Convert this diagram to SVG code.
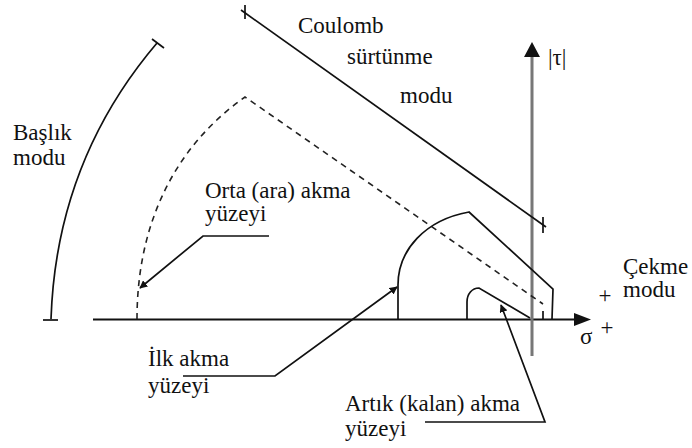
<svg xmlns="http://www.w3.org/2000/svg" width="692" height="448" viewBox="0 0 692 448">
<style>
.ln{fill:none;stroke:#111;stroke-width:1.7}
.ds{fill:none;stroke:#222;stroke-width:1.6;stroke-dasharray:6,5}
.ld{fill:none;stroke:#111;stroke-width:1.7}
.t{font-family:"Liberation Serif","Times New Roman","DejaVu Serif",serif;font-size:23px;fill:#111}
</style>
<defs>
<marker id="ah" viewBox="0 0 10 10" refX="9" refY="5" markerWidth="8" markerHeight="8" markerUnits="userSpaceOnUse" orient="auto">
<path d="M0,0 L10,5 L0,10 z" fill="#111"/>
</marker>
</defs>
<rect width="692" height="448" fill="#fff"/>
<g id="axes">
<line x1="93" y1="319.5" x2="575" y2="319.5" stroke="#111" stroke-width="2"/>
<path d="M574,313 L591,319.5 L574,326 z" fill="#111"/>
<line x1="532" y1="356" x2="532" y2="56" stroke="#777" stroke-width="3"/>
<path d="M524,57 L532,42 L540,57 z" fill="#111"/>
</g>
<g id="baslik-modu">
<path class="ln" d="M157,43 C100,110 55,200 51,319"/>
<line class="ln" x1="152" y1="39" x2="164" y2="48"/>
<line class="ln" x1="43" y1="320" x2="58" y2="320"/>
</g>
<g id="coulomb-modu">
<line class="ln" x1="241" y1="10" x2="546" y2="227"/>
<line class="ln" x1="245" y1="5" x2="245" y2="19"/>
<line class="ln" x1="543" y1="217" x2="543" y2="233"/>
</g>
<g id="orta-akma">
<path class="ds" d="M137,319 C137,230 170,150 245,97 L543,304"/>
<line class="ln" x1="543" y1="311" x2="543" y2="319"/>
</g>
<g id="ilk-akma">
<path class="ln" d="M398,319 L398,285 C398,250 425,220 469,212 L553,289 L552,319"/>
</g>
<g id="artik-akma">
<path class="ln" d="M467,319 L467,302 C467,294 472,288 479,288 L530,318"/>
</g>
<g id="connectors">
<polyline class="ld" points="269,236 203,236 140,288" marker-end="url(#ah)"/>
<polyline class="ld" points="183,376 275,376 397,287" marker-end="url(#ah)"/>
<polyline class="ld" points="425,422 545,422 501,305" marker-end="url(#ah)"/>
</g>
<g id="labels">
<text class="t" x="298" y="33">Coulomb</text>
<text class="t" x="347" y="64">sürtünme</text>
<text class="t" x="400" y="103">modu</text>
<text class="t" x="548" y="65">|τ|</text>
<text class="t" x="13" y="140">Başlık</text>
<text class="t" x="13" y="165">modu</text>
<text class="t" x="205" y="198">Orta (ara) akma</text>
<text class="t" x="205" y="221">yüzeyi</text>
<text class="t" x="148" y="366">İlk akma</text>
<text class="t" x="148" y="393">yüzeyi</text>
<text class="t" x="345" y="411">Artık (kalan) akma</text>
<text class="t" x="345" y="436">yüzeyi</text>
<text class="t" x="623" y="274">Çekme</text>
<text class="t" x="623" y="297">modu</text>
<text class="t" x="605" y="303" text-anchor="middle" font-size="20">+</text>
<text class="t" x="580" y="344">σ</text>
<text class="t" x="607" y="335" text-anchor="middle" font-size="20">+</text>
</g>
</svg>
